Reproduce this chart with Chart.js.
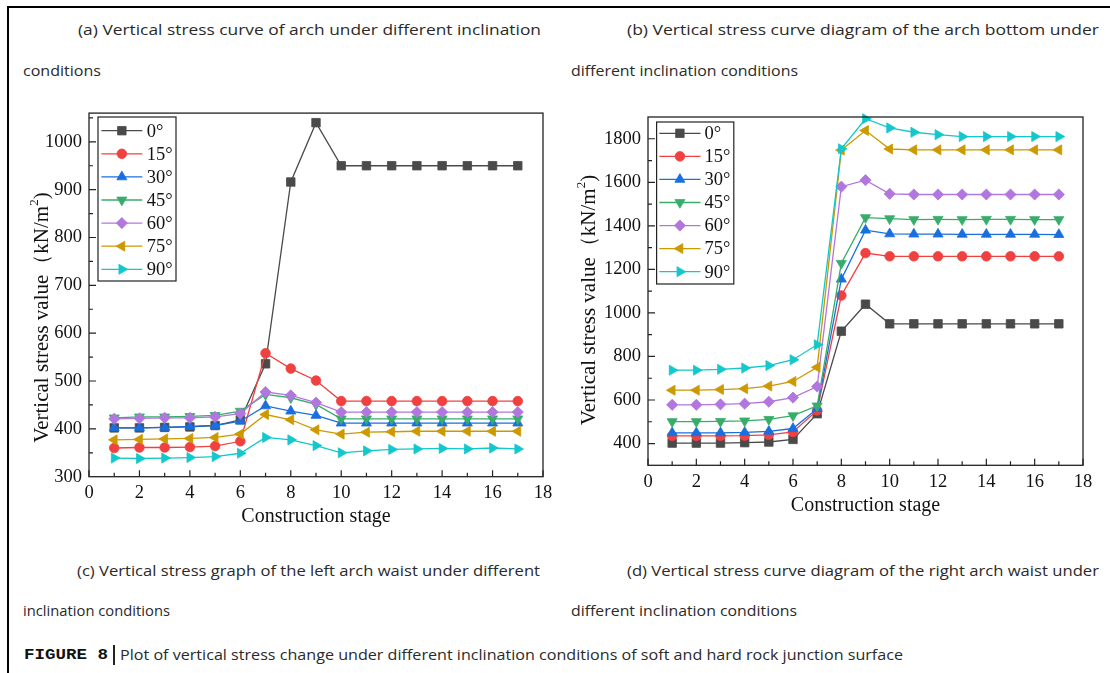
<!DOCTYPE html>
<html>
<head>
<meta charset="utf-8">
<script src="https://cdn.jsdelivr.net/npm/chart.js@4.4.1/dist/chart.umd.min.js"></script>
<style>
  html, body { margin: 0; padding: 0; background: #fff; }
  #page { position: relative; width: 1110px; height: 673px; overflow: hidden; background: #fff; }
  .rule { position: absolute; background: #000; }
  .cap { position: absolute; font-family: "Open Sans", "Noto Sans", sans-serif; font-weight: 400; font-size: 14.5px; color: #2a2a2a;
         white-space: nowrap; line-height: 20px; transform-origin: 0 50%; }
  .cv { position: absolute; }
  .figno { position: absolute; font-family: "Liberation Mono", monospace; font-weight: bold; font-size: 15.5px; color: #111;
           white-space: nowrap; line-height: 20px; transform-origin: 0 50%; }
  .bar { position: absolute; width: 1.5px; height: 20px; background: #222; }
</style>
</head>
<body>
<div id="page">
  <div class="rule" style="left:7px;top:6px;width:2px;height:667px"></div>
  <div class="rule" style="left:7px;top:6px;width:1103px;height:2px"></div>

  <div class="cap fit" data-w="463" style="left:78px;top:20px">(a) Vertical stress curve of arch under different inclination</div>
  <div class="cap fit" data-w="78" style="left:23px;top:61px">conditions</div>
  <div class="cap fit" data-w="472" style="left:627px;top:20px">(b) Vertical stress curve diagram of the arch bottom under</div>
  <div class="cap fit" data-w="227" style="left:571px;top:61px">different inclination conditions</div>

  <div class="cv" style="left:20px;top:95px"><canvas id="chartA" width="540" height="440"></canvas></div>
  <div class="cv" style="left:570px;top:95px"><canvas id="chartB" width="530" height="440"></canvas></div>

  <div class="cap fit" data-w="463" style="left:77px;top:561px">(c) Vertical stress graph of the left arch waist under different</div>
  <div class="cap fit" data-w="147" style="left:23px;top:601px">inclination conditions</div>
  <div class="cap fit" data-w="472" style="left:627px;top:561px">(d) Vertical stress curve diagram of the right arch waist under</div>
  <div class="cap fit" data-w="226" style="left:571px;top:601px">different inclination conditions</div>

  <div class="figno fit" data-w="84" style="left:24px;top:645px">FIGURE 8</div>
  <div class="bar" style="left:113px;top:645px"></div>
  <div class="cap fit" data-w="783" style="left:120px;top:645px">Plot of vertical stress change under different inclination conditions of soft and hard rock junction surface</div>
</div>

<script>
// Construction stages and inclination angles
const stages = [1, 2, 3, 4, 5, 6, 7, 8, 9, 10, 11, 12, 13, 14, 15, 16, 17];
const angleLabels = ['0°', '15°', '30°', '45°', '60°', '75°', '90°'];

// Vertical stress of the arch (kN/m²), one array per inclination
const arch0  = [402, 402, 403, 404, 407, 419, 536, 916, 1040, 950, 950, 950, 950, 950, 950, 950, 950];
const arch15 = [360, 361, 361, 362, 364, 374, 558, 526, 501, 458, 458, 458, 458, 458, 458, 458, 458];
const arch30 = [402, 402, 403, 405, 407, 416, 448, 437, 428, 412, 412, 412, 412, 412, 412, 412, 412];
const arch45 = [423, 425, 425, 426, 428, 437, 472, 465, 451, 421, 421, 421, 421, 421, 421, 421, 421];
const arch60 = [421, 422, 423, 423, 425, 432, 477, 470, 455, 435, 435, 435, 435, 435, 435, 435, 435];
const arch75 = [377, 378, 379, 380, 382, 389, 430, 419, 398, 389, 393, 394, 395, 395, 395, 395, 395];
const arch90 = [339, 338, 339, 340, 342, 349, 382, 377, 365, 350, 354, 357, 358, 359, 358, 360, 358];

// Vertical stress of the arch bottom (kN/m²), one array per inclination
const bottom0  = [402, 402, 402, 404, 407, 419, 537, 916, 1040, 950, 950, 950, 950, 950, 950, 950, 950];
const bottom15 = [435, 435, 435, 436, 440, 453, 552, 1080, 1275, 1260, 1260, 1260, 1260, 1260, 1260, 1260, 1260];
const bottom30 = [449, 449, 449, 451, 456, 469, 560, 1155, 1380, 1363, 1362, 1362, 1361, 1361, 1361, 1361, 1360];
const bottom45 = [501, 501, 502, 504, 511, 528, 573, 1228, 1438, 1433, 1429, 1430, 1429, 1430, 1430, 1429, 1429];
const bottom60 = [578, 578, 580, 583, 592, 611, 662, 1580, 1610, 1547, 1544, 1544, 1544, 1544, 1544, 1544, 1544];
const bottom75 = [645, 645, 648, 652, 664, 685, 750, 1748, 1838, 1753, 1749, 1749, 1749, 1749, 1749, 1749, 1749];
const bottom90 = [737, 737, 741, 747, 758, 785, 854, 1754, 1892, 1850, 1830, 1819, 1810, 1810, 1810, 1810, 1810];

// Axis tick labels
const xTicks  = [0, 2, 4, 6, 8, 10, 12, 14, 16, 18];
const yTicksA = [300, 400, 500, 600, 700, 800, 900, 1000];
const yTicksB = [400, 600, 800, 1000, 1200, 1400, 1600, 1800];

// Series styling (colour, marker, rotation, radius)
const colors = ['#4a4a4a', '#F14040', '#1A6FDF', '#37AD6B', '#B177DE', '#CC9900', '#12C8CC'];
const markers = ['rect', 'circle', 'triangle', 'triangle', 'rectRot', 'triangle', 'triangle'];
const rotations = [0, 0, 0, 180, 0, 270, 90];
const radii = [6, 4.8, 5.8, 5.8, 5.6, 5.8, 5.8];

const SERIF = '"Liberation Serif", "Times New Roman", serif';
const INK = '#111';

function makeDatasets(seriesList) {
  return seriesList.map((vals, i) => ({
    label: angleLabels[i],
    data: stages.map((s, k) => ({ x: s, y: vals[k] })),
    borderColor: colors[i],
    backgroundColor: colors[i],
    borderWidth: 1.3,
    pointStyle: markers[i],
    rotation: rotations[i],
    pointRadius: radii[i],
    pointHoverRadius: radii[i],
    pointBorderWidth: 0.8,
    pointBorderColor: colors[i],
    pointBackgroundColor: colors[i],
    tension: 0,
    clip: false,
    order: seriesList.length - i
  }));
}

// Frame, inward ticks, rotated y title and the boxed legend
const decorations = {
  id: 'decorations',
  afterDraw(chart, args, o) {
    const ctx = chart.ctx;
    const { left, right, top, bottom } = chart.chartArea;
    const xs = chart.scales.x, ys = chart.scales.y;
    ctx.save();
    ctx.strokeStyle = '#222';
    ctx.lineWidth = 1.3;
    ctx.strokeRect(left, top, right - left, bottom - top);

    ctx.lineWidth = 1.2;
    ctx.beginPath();
    for (let v = xs.min; v <= xs.max; v += 1) {
      const px = xs.getPixelForValue(v);
      const len = (v % 2 === 0) ? 6.5 : 4;
      ctx.moveTo(px, bottom);
      ctx.lineTo(px, bottom - len);
    }
    for (let v = o.yMinorStart; v < ys.max; v += o.yMinorStep) {
      const py = ys.getPixelForValue(v);
      const len = o.yMajor.includes(v) ? 7 : 4;
      ctx.moveTo(left, py);
      ctx.lineTo(left + len, py);
    }
    ctx.stroke();

    // y-axis title
    ctx.save();
    ctx.translate(o.titleX, o.titleY);
    ctx.rotate(-Math.PI / 2);
    ctx.fillStyle = INK;
    ctx.textBaseline = 'middle';
    ctx.textAlign = 'left';
    const fs = o.titleSize;
    const parts = [
      { t: 'Vertical stress value', f: fs + 'px ' + SERIF, dy: 0 },
      { t: '（kN/m', f: fs + 'px ' + SERIF, dy: 0 },
      { t: '2', f: Math.round(fs * 0.62) + 'px ' + SERIF, dy: -fs * 0.33 },
      { t: ')', f: fs + 'px ' + SERIF, dy: 0 }
    ];
    let total = 0;
    parts.forEach(p => { ctx.font = p.f; p.w = ctx.measureText(p.t).width; total += p.w; });
    let cx = -total / 2;
    parts.forEach(p => { ctx.font = p.f; ctx.fillText(p.t, cx, p.dy); cx += p.w; });
    ctx.restore();

    // legend
    const L = o.legend;
    ctx.fillStyle = '#fff';
    ctx.fillRect(L.x, L.y, L.w, L.h);
    ctx.strokeStyle = '#222';
    ctx.lineWidth = 1.2;
    ctx.strokeRect(L.x, L.y, L.w, L.h);
    chart.data.datasets.forEach((ds, i) => {
      const ry = L.firstRow + i * L.step;
      ctx.strokeStyle = ds.borderColor;
      ctx.lineWidth = 1.3;
      ctx.beginPath();
      ctx.moveTo(L.lineX1, ry);
      ctx.lineTo(L.lineX2, ry);
      ctx.stroke();
      ctx.fillStyle = ds.pointBackgroundColor;
      ctx.strokeStyle = ds.pointBorderColor;
      ctx.lineWidth = 0.8;
      Chart.helpers.drawPoint(ctx, { pointStyle: ds.pointStyle, radius: ds.pointRadius, rotation: ds.rotation, borderWidth: 0.8 },
        (L.lineX1 + L.lineX2) / 2, ry);
      ctx.fillStyle = INK;
      ctx.font = L.fontSize + 'px ' + SERIF;
      ctx.textAlign = 'left';
      ctx.textBaseline = 'middle';
      ctx.fillText(ds.label, L.textX, ry + 1);
    });
    ctx.restore();
  }
};

function buildChart(id, seriesList, g) {
  return new Chart(document.getElementById(id), {
    type: 'line',
    data: { datasets: makeDatasets(seriesList) },
    plugins: [decorations],
    options: {
      responsive: false,
      animation: false,
      events: [],
      layout: { padding: { top: g.padTop, right: g.padRight, left: 0, bottom: 0 } },
      plugins: {
        legend: { display: false },
        tooltip: { enabled: false },
        decorations: g.deco
      },
      scales: {
        x: {
          type: 'linear', min: 0, max: 18,
          afterBuildTicks: s => { s.ticks = xTicks.map(v => ({ value: v })); },
          afterFit: s => { s.height = g.xAxisH; },
          grid: { display: false, drawTicks: false },
          border: { display: false },
          ticks: { font: { family: SERIF, size: 18.5 }, color: INK, padding: g.xTickPad, maxRotation: 0, autoSkip: false,
                   callback: v => String(v) },
          title: { display: true, text: 'Construction stage', font: { family: SERIF, size: 20 }, color: INK,
                   padding: { top: 0, bottom: g.xTitlePad } }
        },
        y: {
          type: 'linear', min: g.yMin, max: g.yMax,
          afterBuildTicks: s => { s.ticks = g.yTicks.map(v => ({ value: v })); },
          afterFit: s => { s.width = g.yAxisW; },
          grid: { display: false, drawTicks: false },
          border: { display: false },
          ticks: { font: { family: SERIF, size: 18.5 }, color: INK, padding: 7, callback: v => String(v) }
        }
      }
    }
  });
}

buildChart('chartA', [arch0, arch15, arch30, arch45, arch60, arch75, arch90], {
  padTop: 18, padRight: 17, xAxisH: 58.3, yAxisW: 69, xTickPad: 5, xTitlePad: 6,
  yMin: 300, yMax: 1060, yTicks: yTicksA,
  deco: {
    yMinorStart: 350, yMinorStep: 50, yMajor: yTicksA,
    titleX: 22, titleY: 222.5, titleSize: 21,
    legend: { x: 78, y: 22, w: 78, h: 164, firstRow: 35.7, step: 23.1, lineX1: 81.4, lineX2: 122.3, textX: 126.8, fontSize: 18.5 }
  }
});

buildChart('chartB', [bottom0, bottom15, bottom30, bottom45, bottom60, bottom75, bottom90], {
  padTop: 22, padRight: 17, xAxisH: 69.7, yAxisW: 78, xTickPad: 5.5, xTitlePad: 17.6,
  yMin: 300, yMax: 1900, yTicks: yTicksB,
  deco: {
    yMinorStart: 400, yMinorStep: 100, yMajor: yTicksB,
    titleX: 19, titleY: 205, titleSize: 21,
    legend: { x: 86.6, y: 27, w: 77.2, h: 162, firstRow: 38.3, step: 23.06, lineX1: 89.3, lineX2: 130.5, textX: 134.6, fontSize: 18.5 }
  }
});

// Stretch or condense caption lines to their column widths
function fitCaptions() {
  document.querySelectorAll('.fit').forEach(el => {
    el.style.transform = 'none';
    const natural = el.getBoundingClientRect().width;
    const target = parseFloat(el.dataset.w);
    if (natural > 0) el.style.transform = 'scaleX(' + (target / natural) + ')';
  });
}
fitCaptions();
if (document.fonts && document.fonts.ready) document.fonts.ready.then(fitCaptions);
</script>
</body>
</html>
